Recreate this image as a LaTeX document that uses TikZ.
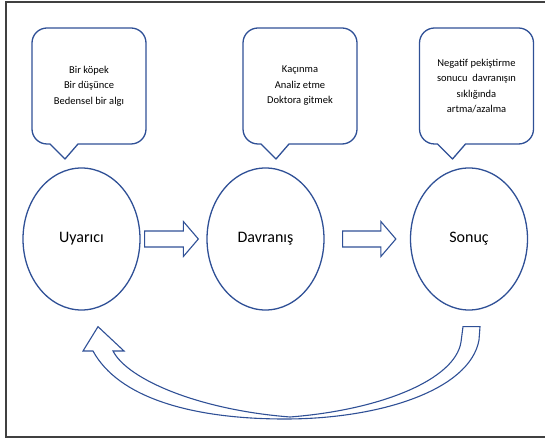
\documentclass[tikz,border=0pt]{standalone}
\usepackage{fontspec}
\setmainfont{Carlito}
\usepackage{tikz}
\usetikzlibrary{calc,shapes.geometric}
\definecolor{MaviCizgi}{RGB}{47,80,150}
\definecolor{GriCerceve}{RGB}{64,64,64}

\newcommand{\blokok}[2]{%
  \draw[blok] let \p1=(#1), \p2=(#2) in
    (\x1,\y1+8pt) -- (\x2-15pt,\y1+8pt) -- (\x2-15pt,\y1+17.5pt) -- (\x2,\y1)
    -- (\x2-15pt,\y1-17.5pt) -- (\x2-15pt,\y1-8pt) -- (\x1,\y1-8pt) -- cycle;}
\newcommand{\balonciz}[1]{%
  \draw[balon] ([xshift=18pt]#1.south west) -- ([xshift=33pt,yshift=-15pt]#1.south west)
    -- ([xshift=46pt]#1.south west) -- ([xshift=-15pt]#1.south east)
    arc[start angle=-90,end angle=0,radius=15pt] -- ([yshift=-15pt]#1.north east)
    arc[start angle=0,end angle=90,radius=15pt] -- ([xshift=15pt]#1.north west)
    arc[start angle=90,end angle=180,radius=15pt] -- ([yshift=15pt]#1.south west)
    arc[start angle=180,end angle=270,radius=15pt] -- cycle;}

\begin{document}
\begin{tikzpicture}[x=1pt,y=1pt,
  daire/.style={ellipse,draw=MaviCizgi,line width=1.3pt,minimum width=117pt,minimum height=142pt,font=\fontsize{16}{19}\selectfont},
  metin/.style={minimum width=114pt,minimum height=116pt,outer sep=0pt,align=center,font=\fontsize{10.5}{15.5}\selectfont},
  balon/.style={draw=MaviCizgi,line width=1.3pt,line join=round},
  blok/.style={draw=MaviCizgi,line width=1.1pt,line join=miter}]
  \useasboundingbox (0,0) rectangle (545,439);
  \draw[GriCerceve,line width=1.2pt] (545,437) -- (6,437) -- (6,2) -- (545,2);

  \node[daire] (uyarici) at (81.5,200) {Uyarıcı};
  \node[daire] (davranis) at (265.5,200) {Davranış};
  \node[daire] (sonuc) at (469,200) {Sonuç};

  \node[metin] (uyaricimetin) at (89,353) {Bir köpek\\Bir düşünce\\Bedensel bir algı};
  \node[metin] (davranismetin) at (300,353) {Kaçınma\\Analiz etme\\Doktora gitmek};
  \node[metin] (sonucmetin) at (476.5,353) {Negatif pekiştirme\\sonucu\ \ davranışın\\sıklığında\\artma/azalma};
  \balonciz{uyaricimetin}
  \balonciz{davranismetin}
  \balonciz{sonucmetin}

  \coordinate (ok1) at ([xshift=4pt]uyarici.east);
  \coordinate (ok2) at ([xshift=-8pt]davranis.west);
  \coordinate (ok3) at ([xshift=18pt]davranis.east);
  \coordinate (ok4) at ([xshift=-14pt]sonuc.west);
  \blokok{ok1}{ok2}
  \blokok{ok3}{ok4}

  \coordinate (donbas) at ([shift={(-6pt,-16pt)}]sonuc.south);
  \coordinate (donuc) at ([shift={(16.5pt,-16pt)}]uyarici.south);
  \draw[blok] (donbas) -- ++(17,0) -- (479,99) .. controls (470,49) and (380,20) .. (285,20)
    .. controls (190,20) and (118,42) .. (93,88) -- (83,88) -- (donuc) -- (124,88) -- (113,88)
    .. controls (128,59) and (200,29) .. (290,22) .. controls (380,29) and (455,59) .. (461,97) -- cycle;
\end{tikzpicture}
\end{document}
